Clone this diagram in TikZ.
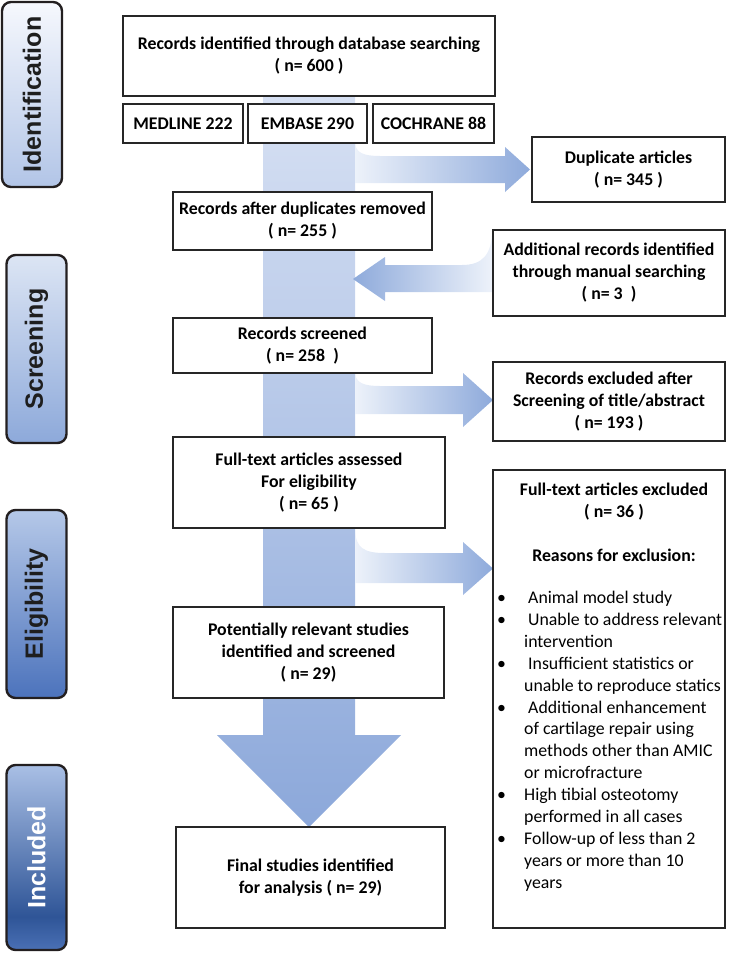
\documentclass[tikz,border=0pt]{standalone}
\usepackage{fontspec}
\setmainfont{Carlito}
\newfontfamily\lblfont{Liberation Sans}
\definecolor{boxline}{HTML}{262626}
\definecolor{lblline}{HTML}{231F20}
\definecolor{bandtop}{HTML}{D6E0F3}
\definecolor{bandbot}{HTML}{8CA8DA}
\definecolor{arrlight}{HTML}{EDF2FA}
\definecolor{arrdark}{HTML}{8EAADB}
\definecolor{idtop}{HTML}{F6F8FD}
\definecolor{idbot}{HTML}{B2C5E7}
\definecolor{sctop}{HTML}{DCE5F4}
\definecolor{scbot}{HTML}{8DA9DA}
\definecolor{eltop}{HTML}{B5C8E8}
\definecolor{elbot}{HTML}{4C73BC}
\definecolor{intop}{HTML}{A9BFE5}
\definecolor{inmid}{HTML}{2F5597}
\definecolor{inbot}{HTML}{4A70B5}
\definecolor{lbltxt}{HTML}{1E1E1E}
\pgfdeclareverticalshading{inclshade}{100bp}{color(0bp)=(inbot); color(25bp)=(inbot); color(34bp)=(inmid); color(75bp)=(intop); color(100bp)=(intop)}
\newcommand{\bitem}[1]{\makebox[27pt][l]{\textbullet}#1}
\newcommand{\bcont}[1]{\hspace*{27pt}#1}
\begin{document}
\begin{tikzpicture}[x=1pt,y=-1pt,
  box/.style={draw=boxline, line width=1.6pt, fill=white, align=center, inner sep=0pt,
    font=\bfseries\fontsize{17.8}{22}\selectfont},
  sidelbl/.style={draw=lblline, line width=2.4pt, rounded corners=9pt, minimum width=60pt},
  lbltext/.style={rotate=90, font=\lblfont\bfseries\fontsize{25}{29}\selectfont, text=lbltxt},
  sidearrow/.style={left color=arrlight, right color=arrdark, draw=none},
  backarrow/.style={left color=arrdark, right color=arrlight, draw=none}
]
\useasboundingbox (0,0) rectangle (735,953);

% side labels
\node[sidelbl, minimum height=185pt, top color=idtop, bottom color=idbot] (idbox) at (32,94.5) {};
\node[lbltext] (idtxt) at (idbox.center) {Identification};
\node[sidelbl, minimum height=188pt, top color=sctop, bottom color=scbot] (scbox) at (36.5,349) {};
\node[lbltext] (sctxt) at (scbox.center) {Screening};
\node[sidelbl, minimum height=188pt, top color=eltop, bottom color=elbot] (elbox) at (36.5,604) {};
\node[lbltext] (eltxt) at (elbox.center) {Eligibility};
\node[sidelbl, minimum height=185pt, shading=inclshade] (inbox) at (36.5,857.5) {};
\node[lbltext, text=white] (intxt) at (inbox.center) {Included};

% main downward band arrow
\path[top color=bandtop, bottom color=bandbot]
  (263,97) -- (355,97) -- (355,735) -- (401,735) -- (309,827) -- (217,735) -- (263,735) -- cycle;

% side arrows
\path[sidearrow] (355,143) .. controls (356,153) and (364,156) .. (380,156) -- (505,156) -- (505,147)
  -- (530,169.5) -- (505,192) -- (505,183) -- (355,183) -- cycle;
\path[backarrow] (353,279) -- (385,257) -- (385,265) -- (462,265) .. controls (482,265) and (492,255) .. (492,230)
  -- (492,292) -- (385,292) -- (385,301) -- cycle;
\path[sidearrow] (355,373) .. controls (356,383) and (364,386) .. (380,386) -- (463,386) -- (463,373)
  -- (493,400) -- (463,427) -- (463,414) -- (355,414) -- cycle;
\path[sidearrow] (355,530) .. controls (356,548) and (364,553) .. (385,553) -- (463,553) -- (463,542)
  -- (493,568.5) -- (463,595) -- (463,583) -- (355,583) -- cycle;

% boxes
\node[box, minimum width=372pt, minimum height=80pt] (top) at (309,56)
  {Records identified through database searching\\( n= 600 )};
\node[box, minimum width=120pt, minimum height=39pt] (medline) at (183,123.5) {MEDLINE 222};
\node[box, minimum width=119pt, minimum height=39pt] (embase) at (307.5,123.5) {EMBASE 290};
\node[box, minimum width=121pt, minimum height=39pt] (cochrane) at (433.5,123.5) {COCHRANE 88};
\node[box, minimum width=193pt, minimum height=65pt] (dup) at (628.5,169.5) {Duplicate articles\\( n= 345 )};
\node[box, minimum width=259pt, minimum height=58pt] (afterdup) at (302.5,221) {Records after duplicates removed\\( n= 255 )};
\node[box, minimum width=232pt, minimum height=86pt] (addl) at (609,273)
  {Additional records identified\\through manual searching\\( n= 3\ \ )};
\node[box, minimum width=259pt, minimum height=55pt] (screened) at (302.5,345.5) {Records screened\\( n= 258\ \ )};
\node[box, minimum width=232pt, minimum height=79pt] (excl) at (609,401.5)
  {Records excluded after\\Screening of title/abstract\\( n= 193 )};
\node[box, minimum width=272pt, minimum height=91pt] (ftassess) at (309,482.5)
  {Full-text articles assessed\\For eligibility\\( n= 65 )};
\node[box, minimum width=232pt, minimum height=458pt] (ftexcl) at (609,699) {};
\node[anchor=north, align=center, inner sep=0pt, font=\bfseries\fontsize{17.8}{22}\selectfont] (ftexhead)
  at (614,483) {Full-text articles excluded\\( n= 36 )\\[22pt]Reasons for exclusion:};
\node[anchor=north west, align=left, inner sep=0pt, font=\fontsize{17.8}{21.9}\selectfont] (reasons)
  at (497,591) {%
  \bitem{\hspace{4pt}Animal model study}\\
  \bitem{\hspace{4pt}Unable to address relevant}\\
  \bcont{intervention}\\
  \bitem{\hspace{4pt}Insufficient statistics or}\\
  \bcont{unable to reproduce statics}\\
  \bitem{\hspace{4pt}Additional enhancement}\\
  \bcont{of cartilage repair using}\\
  \bcont{methods other than AMIC}\\
  \bcont{or microfracture}\\
  \bitem{High tibial osteotomy}\\
  \bcont{performed in all cases}\\
  \bitem{Follow-up of less than 2}\\
  \bcont{years or more than 10}\\
  \bcont{years}};
\node[box, minimum width=271pt, minimum height=91pt] (potential) at (308.5,652.5)
  {Potentially relevant studies\\identified and screened\\( n= 29)};
\node[box, minimum width=269pt, minimum height=101pt] (final) at (310.5,877.5)
  {Final studies identified\\for analysis ( n= 29)};
\end{tikzpicture}
\end{document}
